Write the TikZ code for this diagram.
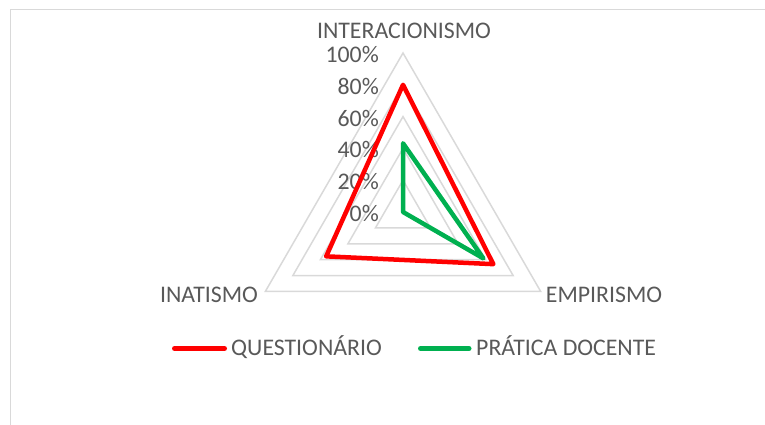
\documentclass[tikz,border=0pt]{standalone}
\usepackage{fontspec}
\setmainfont{Carlito}
\definecolor{txtgray}{HTML}{595959}
\definecolor{gridgray}{HTML}{D9D9D9}
\definecolor{serred}{HTML}{FF0000}
\definecolor{sergreen}{HTML}{00B050}
\tikzset{
    ring/.style={draw=gridgray, line width=1.5pt},
    serie/.style={line width=4.5pt, line join=round},
    keyline/.style={line width=5pt, line cap=round},
    lbl/.style={text=txtgray, inner sep=0pt, font=\fontsize{23.8}{28}\selectfont},
}

\begin{document}
\begin{tikzpicture}[x=1pt,y=1pt]
    \useasboundingbox (0,0) rectangle (765,425);
    \draw[gridgray, line width=1pt] (10.5,0) -- (10.5,415.5) -- (765,415.5);

    \begin{scope}[shift={(403,213)}]
        \foreach \k in {1,...,5}
            \draw[ring] (90:31.8*\k) -- (210:31.8*\k) -- (330:31.8*\k) -- cycle;
        \foreach \k/\p in {0/0,1/20,2/40,3/60,4/80,5/100}
            \node[lbl, anchor=base east] (tick\k) at (-24,31.8*\k-9.5) {\p\%};

        \coordinate (q1) at (90:127.2);
        \coordinate (q2) at (210:88.7);
        \coordinate (q3) at (330:104.3);
        \draw[serie, serred] (q1) -- (q2) -- (q3) -- cycle;

        \coordinate (p1) at (90:68.7);
        \coordinate (p2) at (0,0);
        \coordinate (p3) at (330:92.8);
        \draw[serie, sergreen] (p1) -- (p2) -- (p3) -- cycle;
    \end{scope}

    \node[lbl, anchor=base] (interac) at (404,386) {INTERACIONISMO};
    \node[lbl, anchor=base] (inat) at (209,122.3) {INATISMO};
    \node[lbl, anchor=base] (empir) at (604,122.3) {EMPIRISMO};

    \coordinate (qa) at (174.5,76.5);
    \coordinate (qb) at (224.5,76.5);
    \draw[keyline, serred] (qa) -- (qb);
    \node[lbl, anchor=base west] (quest) at (231,69) {QUESTIONÁRIO};

    \coordinate (pa) at (420.5,76.5);
    \coordinate (pb) at (469,76.5);
    \draw[keyline, sergreen] (pa) -- (pb);
    \node[lbl, anchor=base west] (pratica) at (476,69) {PRÁTICA DOCENTE};
\end{tikzpicture}
\end{document}
